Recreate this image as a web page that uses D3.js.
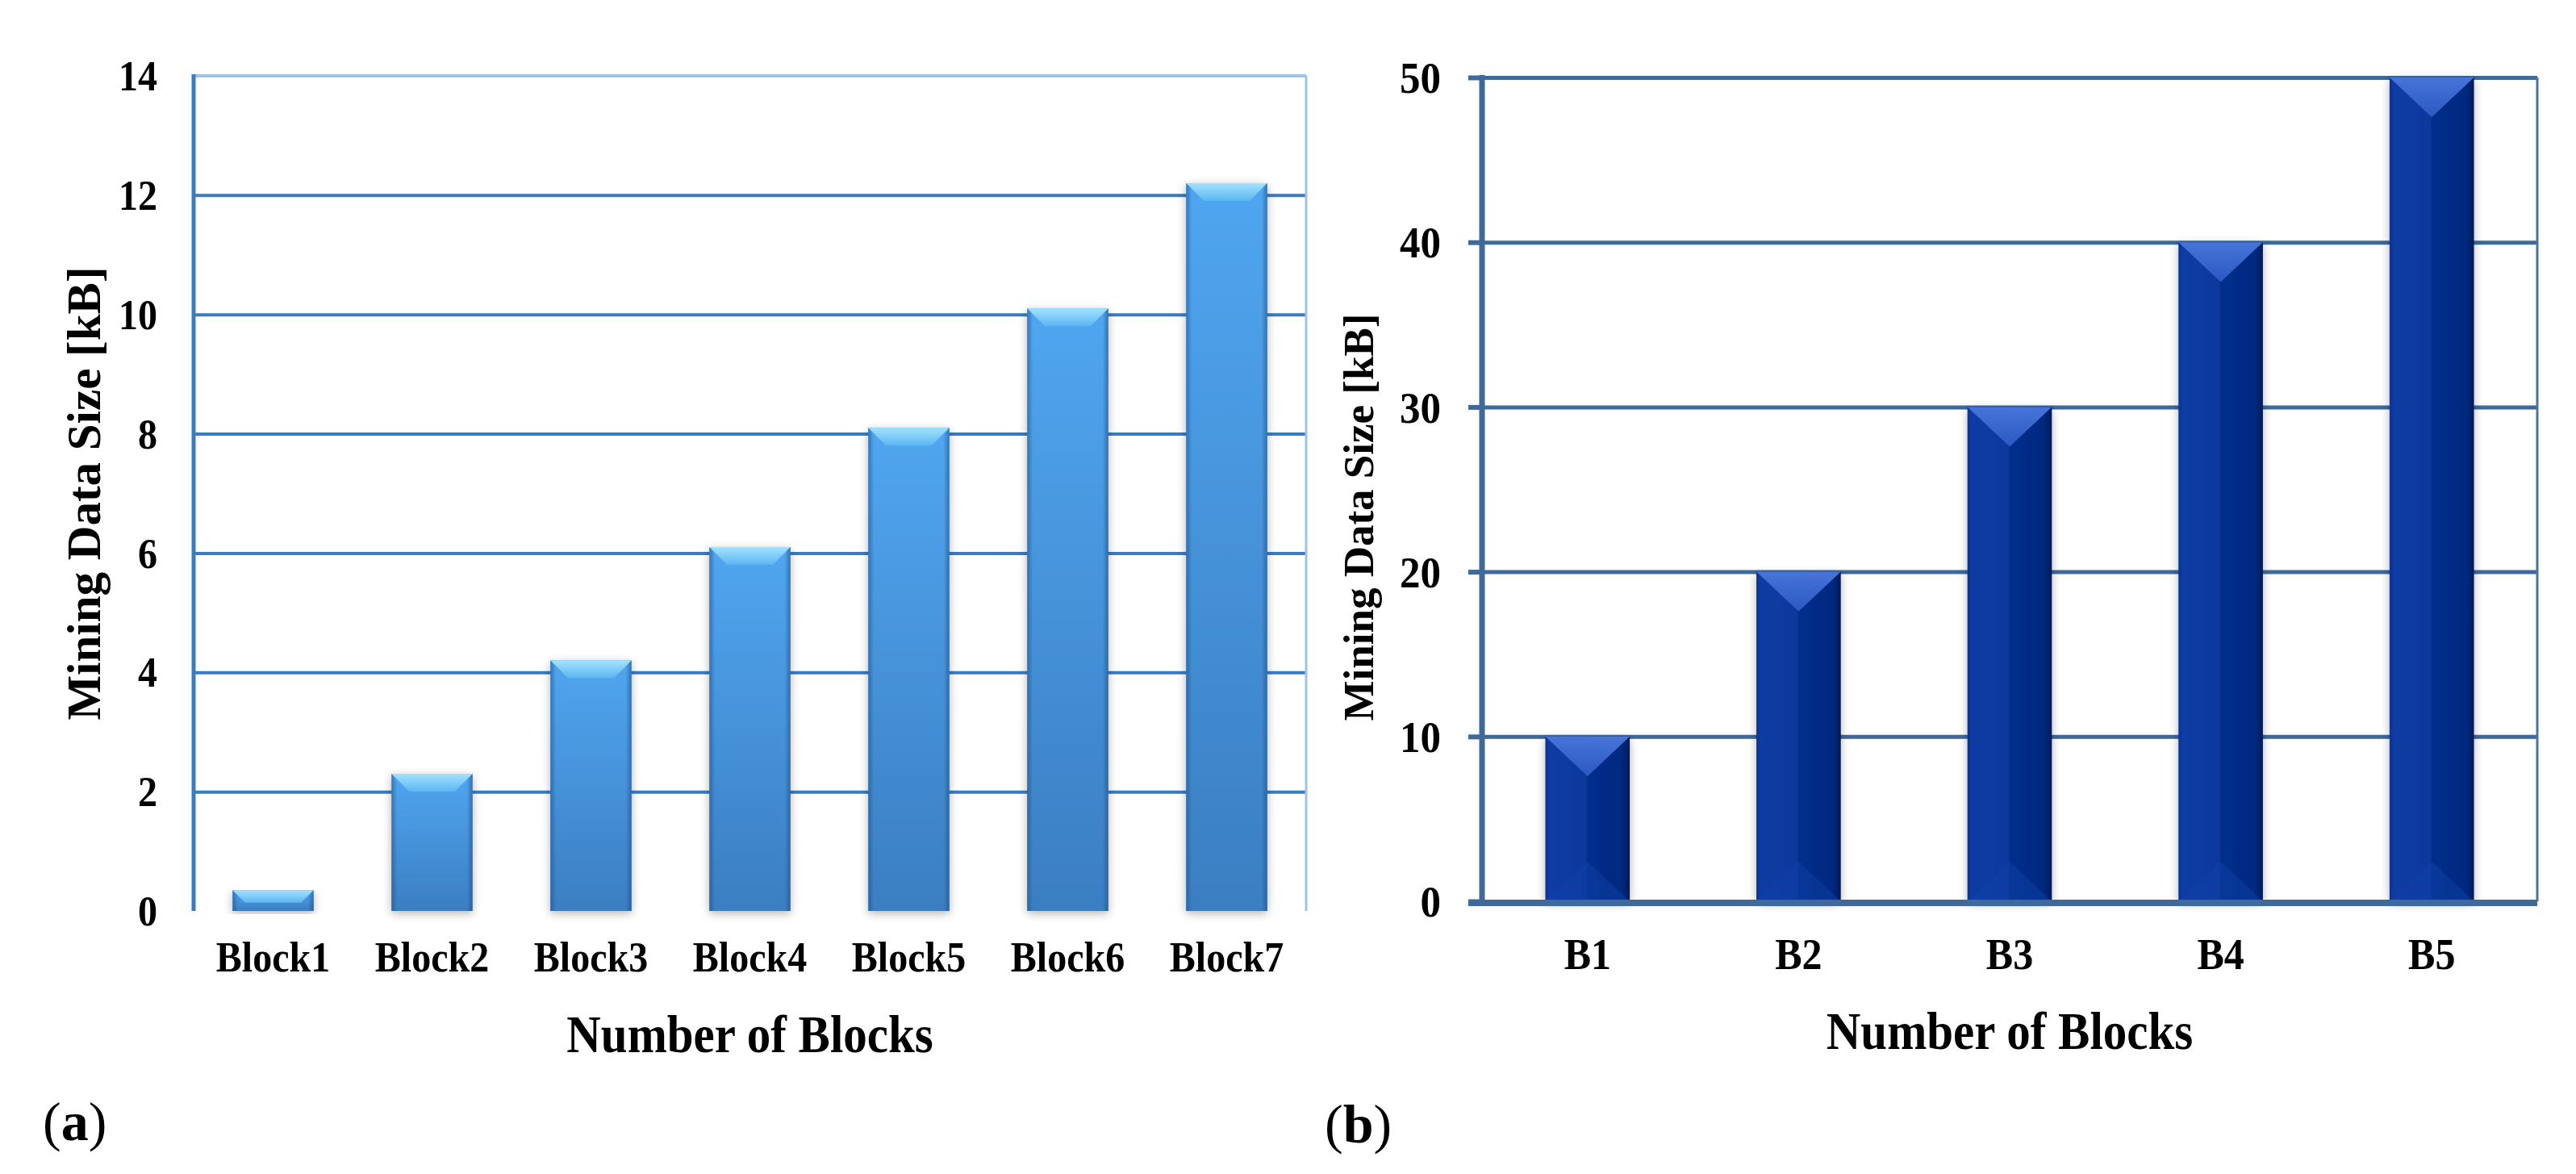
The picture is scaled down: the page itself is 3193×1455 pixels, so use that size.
<!DOCTYPE html>
<html><head><meta charset="utf-8">
<script src="https://cdn.jsdelivr.net/npm/d3@7"></script>
<style>
body{margin:0;background:#fff}
svg{display:block}
text{font-family:"Liberation Serif","Times New Roman",serif;font-weight:bold;fill:#000}
</style>
</head><body>
<svg id="c" width="3193" height="1455"></svg>
<script>
// ---------- data ----------
const blocksA = ["Block1","Block2","Block3","Block4","Block5","Block6","Block7"];
const sizesA  = [0.35, 2.3, 4.2, 6.1, 8.1, 10.1, 12.2];
const ticksA  = [0, 2, 4, 6, 8, 10, 12, 14];
const blocksB = ["B1","B2","B3","B4","B5"];
const sizesB  = [10, 20, 30, 40, 50];
const ticksB  = [0, 10, 20, 30, 40, 50];
const xTitle = "Number of Blocks";
const yTitle = "Mining Data Size [kB]";
const panelLabels = ["a","b"];

// ---------- setup ----------
const svg = d3.select("#c");
const defs = svg.append("defs");
function lin(id, x2, y2, stops){
  const g = defs.append("linearGradient").attr("id", id)
    .attr("x1",0).attr("y1",0).attr("x2",x2).attr("y2",y2);
  stops.forEach(s => g.append("stop").attr("offset", s[0]).attr("stop-color", s[1]).attr("stop-opacity", s[2]===undefined?1:s[2]));
}
lin("bodyA",0,1,[[0,"#50a6f0"],[1,"#3b7ec2"]]);
lin("sideA",1,0,[[0,"#1d4f8a",0.55],[0.07,"#1d4f8a",0],[0.93,"#1d4f8a",0],[1,"#1d4f8a",0.6]]);
lin("bevA",0,1,[[0,"#a3e2ff"],[1,"#5cb6f2"]]);
lin("bodyB",1,0,[[0,"#08318f"],[0.05,"#0c3ca3"],[0.48,"#0a389c"],[0.5,"#062e8c"],[0.9,"#042a80"],[1,"#021b58"]]);
lin("triB",0,1,[[0,"#4674d8"],[1,"#2c58c2"]]);

const sh = defs.append("filter").attr("id","shadow").attr("x","-30%").attr("y","-10%").attr("width","160%").attr("height","125%");
sh.append("feGaussianBlur").attr("in","SourceAlpha").attr("stdDeviation",6);
sh.append("feOffset").attr("dx",0).attr("dy",3);
sh.append("feComponentTransfer").append("feFuncA").attr("type","linear").attr("slope",0.3);
const mg = sh.append("feMerge"); mg.append("feMergeNode"); mg.append("feMergeNode").attr("in","SourceGraphic");

const SY = 1.08; // slight vertical stretch of the original lettering

// ================= Panel (a) =================
const A = {l:240, r:1619, t:94, b:1129};
const xA = d3.scaleBand().domain(blocksA).range([A.l, A.r]).paddingInner(0.49).paddingOuter(0.245);
const yA = d3.scaleLinear().domain([0,14]).range([A.b, A.t]);
const gA = svg.append("g");

// gridlines
const gridA = gA.append("g").attr("transform",`translate(${A.l},0)`)
  .call(d3.axisLeft(yA).tickValues(ticksA.filter(v=>v>0 && v<14)).tickSize(-(A.r-A.l)).tickFormat(""));
gridA.select(".domain").remove();
gridA.selectAll(".tick line").attr("stroke","#3b7bbf").attr("stroke-width",4);
// top & right frame (light)
gA.append("line").attr("x1",A.l).attr("x2",A.r).attr("y1",yA(14)).attr("y2",yA(14)).attr("stroke","#9dc3e6").attr("stroke-width",4);
gA.append("line").attr("x1",A.r).attr("x2",A.r).attr("y1",yA(14)).attr("y2",A.b).attr("stroke","#9dc3e6").attr("stroke-width",3);

// bars
const barsA = gA.append("g").selectAll("g").data(blocksA.map((k,i)=>({k, v:sizesA[i]}))).join("g");
barsA.append("rect").attr("x",d=>xA(d.k)).attr("y",d=>yA(d.v)).attr("width",xA.bandwidth())
  .attr("height",d=>yA(0)-yA(d.v)).attr("fill","url(#bodyA)").attr("filter","url(#shadow)");
barsA.append("rect").attr("x",d=>xA(d.k)).attr("y",d=>yA(d.v)).attr("width",xA.bandwidth())
  .attr("height",d=>yA(0)-yA(d.v)).attr("fill","url(#sideA)");
barsA.append("path").attr("fill","url(#bevA)").attr("d",d=>{
  const x=xA(d.k), w=xA.bandwidth(), y=yA(d.v), h=yA(0)-y, b=Math.min(22, h*0.6);
  return `M${x},${y}L${x+w},${y}L${x+w-b},${y+b}L${x+b},${y+b}Z`;
});

// axis lines
gA.append("line").attr("x1",A.l).attr("x2",A.l).attr("y1",A.t-2).attr("y2",A.b).attr("stroke","#3b7bbf").attr("stroke-width",5);
gA.append("line").attr("x1",A.l-2).attr("x2",A.r).attr("y1",A.b+1).attr("y2",A.b+1).attr("stroke","#3b7bbf").attr("stroke-width",6).attr("filter","url(#shadow)");

// y axis labels
const yAxA = gA.append("g").attr("transform",`translate(${A.l},0)`)
  .call(d3.axisLeft(yA).tickValues(ticksA).tickSize(0).tickPadding(45).tickFormat(d3.format("d")));
yAxA.select(".domain").remove();
yAxA.selectAll("text").attr("font-size",48).attr("fill","#000").attr("font-family",null)
  .attr("dy","0.34em").attr("transform",`scale(1,${SY})`);

// x axis labels
const xAxA = gA.append("g").attr("transform",`translate(0,${A.b})`)
  .call(d3.axisBottom(xA).tickSize(0));
xAxA.select(".domain").remove();
xAxA.selectAll("text").attr("font-size",48).attr("font-family",null).attr("fill","#000")
  .attr("y",75/SY).attr("dy",0).attr("transform",`scale(1,${SY})`);

// titles
gA.append("text").attr("text-anchor","middle").attr("font-size",59)
  .attr("transform",`translate(${(A.l+A.r)/2},1304) scale(1,1.1)`).text(xTitle);
gA.append("text").attr("text-anchor","middle").attr("font-size",59)
  .attr("transform",`translate(124,${(A.t+A.b)/2}) rotate(-90)`).text(yTitle);

// ================= Panel (b) =================
const B = {l:1837, r:3145, t:96, b:1117};
const xB = d3.scaleBand().domain(blocksB).range([B.l, B.r]).paddingInner(0.6).paddingOuter(0.3);
const yB = d3.scaleLinear().domain([0,50]).range([B.b, B.t]);
const gB = svg.append("g");

const gridB = gB.append("g").attr("transform",`translate(${B.l},0)`)
  .call(d3.axisLeft(yB).tickValues(ticksB.filter(v=>v>0)).tickSize(-(B.r-B.l)).tickFormat(""));
gridB.select(".domain").remove();
gridB.selectAll(".tick line").attr("stroke","#3e6999").attr("stroke-width",5);
gB.append("line").attr("x1",B.r).attr("x2",B.r).attr("y1",B.t).attr("y2",B.b).attr("stroke","#4a73a2").attr("stroke-width",3);

const barsB = gB.append("g").selectAll("g").data(blocksB.map((k,i)=>({k, v:sizesB[i]}))).join("g");
barsB.append("rect").attr("x",d=>xB(d.k)).attr("y",d=>yB(d.v)).attr("width",xB.bandwidth())
  .attr("height",d=>yB(0)-yB(d.v)).attr("fill","url(#bodyB)").attr("filter","url(#shadow)");
barsB.append("path").attr("fill","#1042aa").attr("fill-opacity",0.45).attr("d",d=>{
  const x=xB(d.k), w=xB.bandwidth(), y0=yB(0), dd=w*0.47;
  return `M${x},${y0}L${x+w},${y0}L${x+w/2},${y0-dd}Z`;
});
barsB.append("path").attr("fill","url(#triB)").attr("d",d=>{
  const x=xB(d.k), w=xB.bandwidth(), y=yB(d.v), dd=w*0.47;
  return `M${x},${y}L${x+w},${y}L${x+w/2},${y+dd}Z`;
});

gB.append("line").attr("x1",B.l).attr("x2",B.l).attr("y1",B.t-3).attr("y2",B.b+4).attr("stroke","#3e6999").attr("stroke-width",7);
gB.append("line").attr("x1",B.l-17).attr("x2",B.r).attr("y1",B.b+2).attr("y2",B.b+2).attr("stroke","#3e6999").attr("stroke-width",8);

const yAxB = gB.append("g").attr("transform",`translate(${B.l},0)`)
  .call(d3.axisLeft(yB).tickValues(ticksB).tickSize(17).tickPadding(34));
yAxB.select(".domain").remove();
yAxB.selectAll(".tick line").attr("stroke","#3e6999").attr("stroke-width",6);
yAxB.selectAll("text").attr("font-size",51).attr("fill","#000").attr("font-family",null)
  .attr("dy","0.34em").attr("transform",`scale(1,${SY})`);

const xAxB = gB.append("g").attr("transform",`translate(0,${B.b})`)
  .call(d3.axisBottom(xB).tickSize(0));
xAxB.select(".domain").remove();
xAxB.selectAll("text").attr("font-size",50).attr("font-family",null).attr("fill","#000")
  .attr("y",84/SY).attr("dy",0).attr("transform",`scale(1,${SY})`);

gB.append("text").attr("text-anchor","middle").attr("font-size",59)
  .attr("transform",`translate(${(B.l+B.r)/2},1300) scale(1,1.1)`).text(xTitle);
gB.append("text").attr("text-anchor","middle").attr("font-size",53)
  .attr("transform",`translate(1702,641) rotate(-90)`).text(yTitle);

// ---------- panel labels ----------
[[53,1413],[1642,1416]].forEach((p,i)=>{
  const t = svg.append("text").attr("x",p[0]).attr("y",p[1]).attr("font-size",68).attr("font-weight","normal");
  t.append("tspan").attr("font-weight","normal").text("(");
  t.append("tspan").attr("font-weight","bold").text(panelLabels[i]);
  t.append("tspan").attr("font-weight","normal").text(")");
});
</script>
</body></html>
